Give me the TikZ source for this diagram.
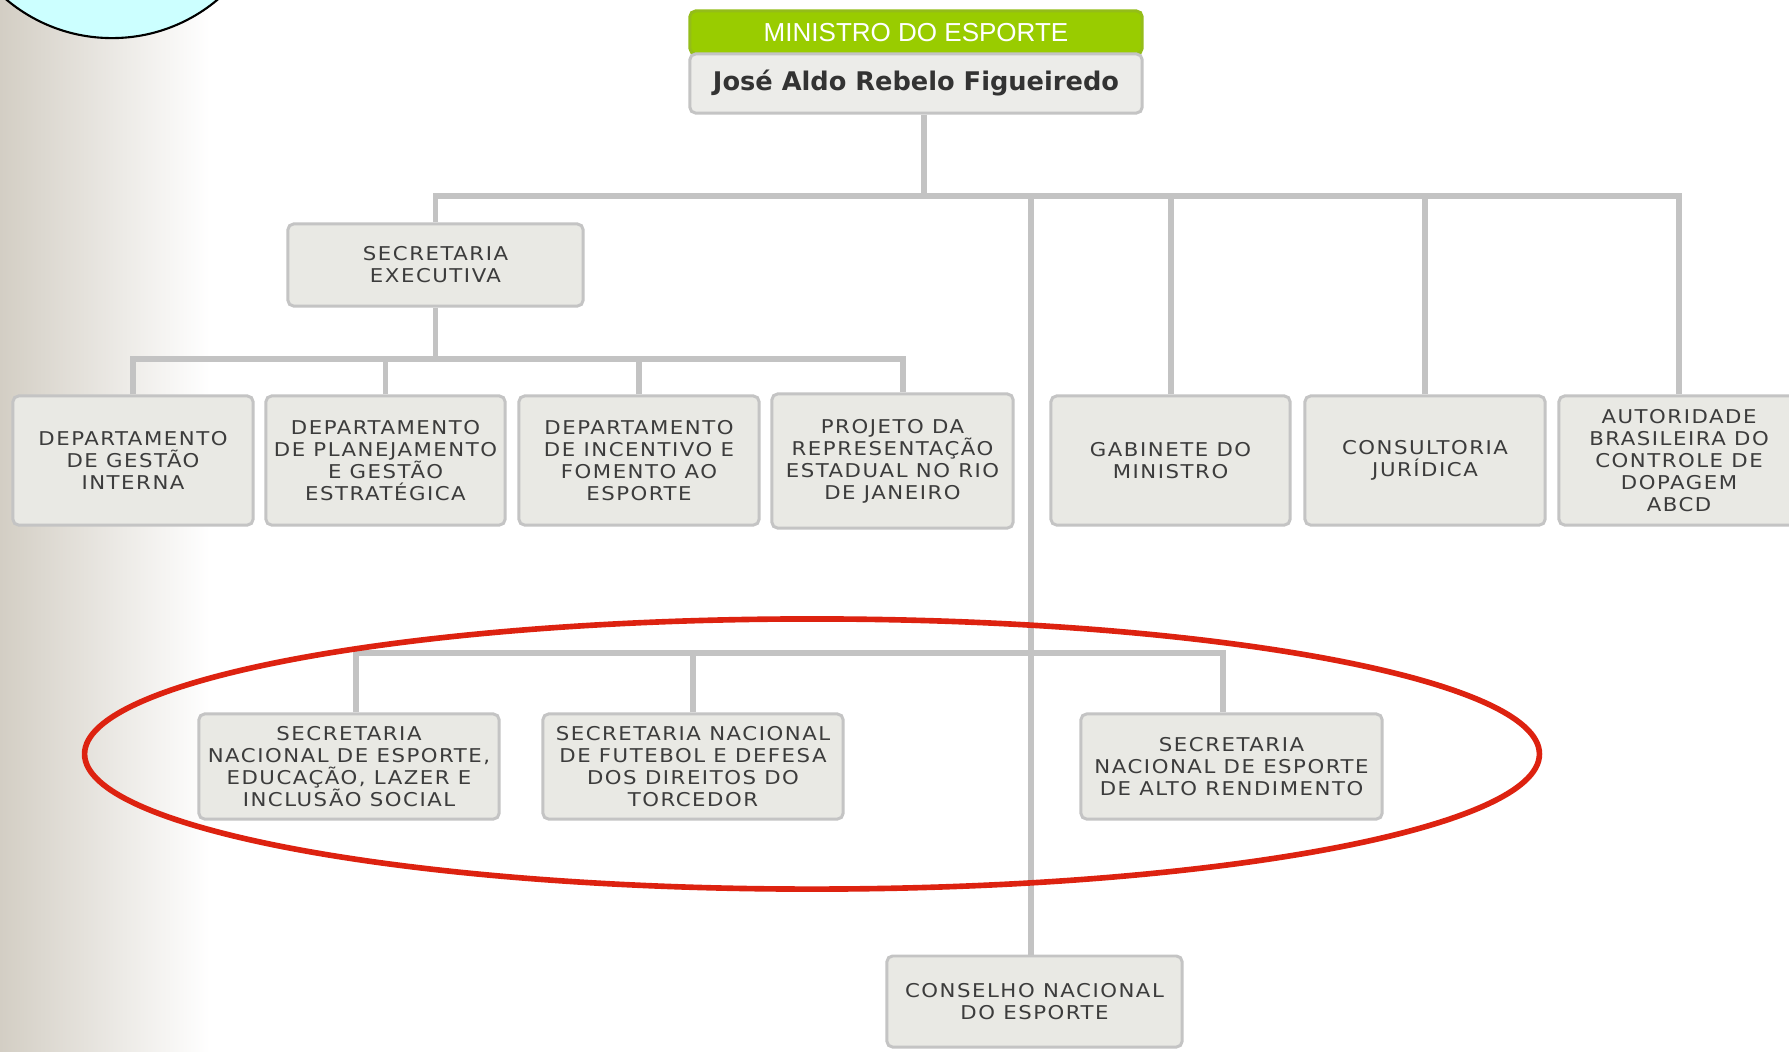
\documentclass[tikz,border=0pt]{standalone}
\usepackage{fontspec}
\newfontfamily\boxfont[LetterSpace=8,FakeStretch=1.12]{DejaVu Sans}
\newfontfamily\titlefont{Liberation Sans}
\newfontfamily\namefont{DejaVu Sans}
\definecolor{boxfill}{HTML}{E9E9E4}
\definecolor{boxline}{HTML}{C4C4C4}
\definecolor{boxtext}{HTML}{3C3C3C}
\definecolor{linkgray}{HTML}{C3C3C3}
\definecolor{mingreen}{HTML}{99CC00}
\definecolor{namefill}{HTML}{ECECE9}
\definecolor{bgleft}{HTML}{D3CEC4}
\definecolor{circfill}{HTML}{CCFFFF}
\definecolor{ringred}{HTML}{DD2210}
\pgfdeclarelayer{back}
\pgfdeclarelayer{links}
\pgfsetlayers{back,links,main}
\begin{document}
\begin{tikzpicture}[x=0.01cm,y=-0.01cm,
  orgbox/.style={draw=boxline, line width=0.85pt, fill=boxfill, rounded corners=1.6pt,
    align=center, font=\boxfont\fontsize{5.4}{6.26}\selectfont, text=boxtext, inner sep=0pt},
  link/.style={draw=linkgray, line width=1.7pt},
  ring/.style={draw=ringred, line width=1.6pt}]
\useasboundingbox (0,0) rectangle (1789,1051);
% background
\begin{pgfonlayer}{back}
\fill[white] (0,0) rectangle (1789,1051);
\shade[left color=bgleft, right color=white] (0,0) rectangle (210,1051);
\end{pgfonlayer}
\begin{scope}
\clip (0,0) rectangle (1789,1051);
\draw[fill=circfill, line width=0.6pt] (112,-126) circle[radius=1.64cm];
\end{scope}

% nodes
\node[orgbox, fill=mingreen, draw=mingreen!80!gray, text=white, font=\titlefont\fontsize{7.4}{8}\selectfont,
  minimum width=4.52cm, minimum height=0.43cm] (title) at (916,32.5) {MINISTRO DO ESPORTE};
\node[orgbox, fill=namefill, text=black!80, font=\namefont\bfseries\fontsize{7.3}{8}\selectfont,
  minimum width=4.52cm, minimum height=0.59cm] (min) at (916,83.5) {José Aldo Rebelo Figueiredo};

\node[orgbox, minimum width=2.95cm, minimum height=0.82cm] (se) at (435.5,265) {SECRETARIA\\EXECUTIVA};

\node[orgbox, minimum width=2.40cm, minimum height=1.29cm] (dgi) at (133,460.5) {DEPARTAMENTO\\DE GESTÃO\\INTERNA};
\node[orgbox, minimum width=2.39cm, minimum height=1.29cm] (dpge) at (385.5,460.5) {DEPARTAMENTO\\DE PLANEJAMENTO\\E GESTÃO\\ESTRATÉGICA};
\node[orgbox, minimum width=2.40cm, minimum height=1.29cm] (dife) at (639,460.5) {DEPARTAMENTO\\DE INCENTIVO E\\FOMENTO AO\\ESPORTE};
\node[orgbox, minimum width=2.41cm, minimum height=1.34cm] (prerj) at (892.5,461) {PROJETO DA\\REPRESENTAÇÃO\\ESTADUAL NO RIO\\DE JANEIRO};
\node[orgbox, minimum width=2.39cm, minimum height=1.29cm] (gab) at (1170.5,460.5) {GABINETE DO\\MINISTRO};
\node[orgbox, minimum width=2.40cm, minimum height=1.29cm] (cj) at (1425,460.5) {CONSULTORIA\\JURÍDICA};
\node[orgbox, minimum width=2.40cm, minimum height=1.29cm] (abcd) at (1679,460.5) {AUTORIDADE\\BRASILEIRA DO\\CONTROLE DE\\DOPAGEM\\ABCD};

\node[orgbox, minimum width=3.00cm, minimum height=1.05cm] (sneelis) at (349,766.5) {SECRETARIA\\NACIONAL DE ESPORTE,\\EDUCAÇÃO, LAZER E\\INCLUSÃO SOCIAL};
\node[orgbox, minimum width=3.00cm, minimum height=1.05cm] (snfddt) at (693,766.5) {SECRETARIA NACIONAL\\DE FUTEBOL E DEFESA\\DOS DIREITOS DO\\TORCEDOR};
\node[orgbox, minimum width=3.01cm, minimum height=1.05cm] (snear) at (1231.5,766.5) {SECRETARIA\\NACIONAL DE ESPORTE\\DE ALTO RENDIMENTO};

\node[orgbox, minimum width=2.95cm, minimum height=0.91cm] (cne) at (1034.5,1001.5) {CONSELHO NACIONAL\\DO ESPORTE};

% bus coordinates
\coordinate (busA) at (924,196);
\coordinate (busB) at (437,359);
\coordinate (busC) at (1031,653);

% connectors
\begin{pgfonlayer}{links}
\draw[link] ([xshift=0.08cm]min.south) -- ([xshift=0.08cm]min.south |- busA);
\draw[link] (se.north) -- (se.north |- busA) -| (abcd.north);
\draw[link] ([xshift=-0.035cm]cne.north) -- ([xshift=-0.035cm]cne.north |- busA);
\draw[link] (gab.north) -- (gab.north |- busA);
\draw[link] (cj.north) -- (cj.north |- busA);

\draw[link] (se.south) -- (se.south |- busB);
\draw[link] (dgi.north) -- (dgi.north |- busB) -| ([xshift=0.105cm]prerj.north);
\draw[link] (dpge.north) -- (dpge.north |- busB);
\draw[link] (dife.north) -- (dife.north |- busB);

\draw[link] ([xshift=0.07cm]sneelis.north) -- ([xshift=0.07cm]sneelis.north |- busC) -| ([xshift=-0.085cm]snear.north);
\draw[link] (snfddt.north) -- (snfddt.north |- busC);
\end{pgfonlayer}

% red ellipse
\draw[ring] (812,754) ellipse[x radius=7.27cm, y radius=1.35cm];
\end{tikzpicture}
\end{document}
